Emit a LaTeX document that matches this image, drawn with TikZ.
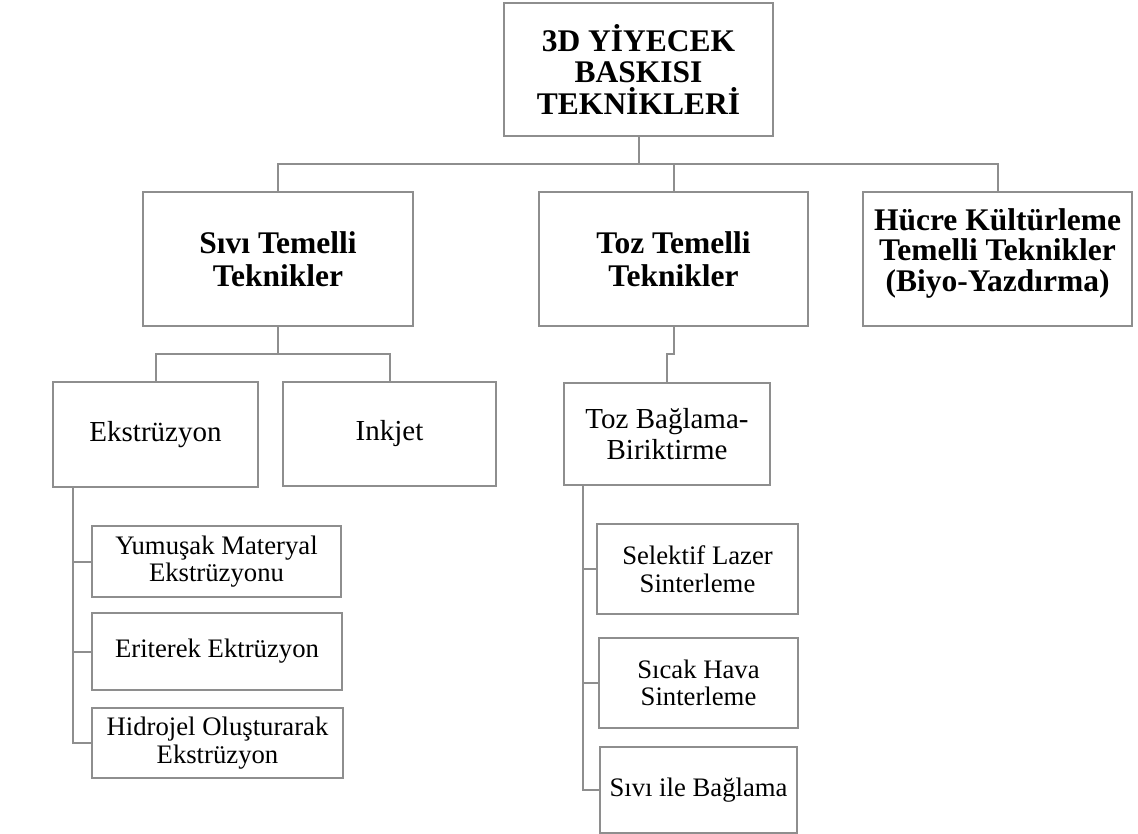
\documentclass[tikz,border=0pt]{standalone}
\usepackage{fontspec}
\setmainfont{Liberation Serif}
\usetikzlibrary{calc}
\definecolor{edge}{RGB}{142,142,142}
\begin{document}
\begin{tikzpicture}[x=1pt,y=-1pt,
  box/.style={draw=edge,line width=2pt,fill=white,rectangle,inner sep=0pt,align=center,text=black},
  lvl0/.style={box,font=\fontsize{31.5}{31.5}\selectfont\bfseries},
  lvl1/.style={box,font=\fontsize{31.5}{32.5}\selectfont\bfseries},
  lvl2/.style={box,font=\fontsize{29}{31.5}\selectfont},
  lvl3/.style={box,font=\fontsize{26.7}{27.5}\selectfont},
  conn/.style={draw=edge,line width=2pt}]
\fill[white] (0,0) rectangle (1138,834);
\useasboundingbox (0,0) rectangle (1138,834);

% root
\node[lvl0,minimum width=269,minimum height=133] (top) at (638.5,69.5) {3D YİYECEK\\BASKISI\\TEKNİKLERİ};

% first level
\node[lvl1,minimum width=270,minimum height=134] (sivi) at (278,259) {Sıvı Temelli\\Teknikler};
\node[lvl1,minimum width=269,minimum height=134] (toz) at (673.5,259) {Toz Temelli\\Teknikler};
\node[lvl1,minimum width=269,minimum height=134,font=\fontsize{31.5}{30.5}\selectfont\bfseries,text depth=18pt] (hucre) at (997.5,259) {Hücre Kültürleme\\Temelli Teknikler\\(Biyo-Yazdırma)};

% second level
\node[lvl2,minimum width=205,minimum height=105] (ekst) at (155.5,434.5) {Ekstrüzyon};
\node[lvl2,minimum width=213,minimum height=104] (inkjet) at (389.5,434) {Inkjet};
\node[lvl2,minimum width=206,minimum height=102] (tozbag) at (667,434) {Toz Bağlama-\\Biriktirme};

% third level
\node[lvl3,minimum width=249,minimum height=71] (yum) at (216.5,561.5) {Yumuşak Materyal\\Ekstrüzyonu};
\node[lvl3,minimum width=250,minimum height=77] (eri) at (217,651.5) {Eriterek Ektrüzyon};
\node[lvl3,minimum width=251,minimum height=70] (hid) at (217.5,743) {Hidrojel Oluşturarak\\Ekstrüzyon};
\node[lvl3,minimum width=201,minimum height=90] (sel) at (697.5,569) {Selektif Lazer\\Sinterleme};
\node[lvl3,minimum width=199,minimum height=90] (sic) at (698.5,683) {Sıcak Hava\\Sinterleme};
\node[lvl3,minimum width=197,minimum height=86] (siv) at (698.5,790) {Sıvı ile Bağlama};

% bus levels
\coordinate (b1) at (0,164);
\coordinate (b2) at (0,354);

% root to first level
\draw[conn] (top.south) -- (top.south |- b1);
\draw[conn] (sivi.north) -- (sivi.north |- b1) -- (hucre.north |- b1) -- (hucre.north);
\draw[conn] (toz.north) -- (toz.north |- b1);

% liquid based branch
\draw[conn] (sivi.south) -- (sivi.south |- b2);
\draw[conn] (ekst.north) -- (ekst.north |- b2) -- (inkjet.north |- b2) -- (inkjet.north);

% powder based branch
\draw[conn] (toz.south) -- (toz.south |- b2) -- (tozbag.north |- b2) -- (tozbag.north);

% extrusion sub-types
\coordinate (et) at ($(ekst.south west)+(21,0)$);
\draw[conn] (et) -- (et |- hid.west) -- (hid.west);
\draw[conn] (et |- yum.west) -- (yum.west);
\draw[conn] (et |- eri.west) -- (eri.west);

% powder binding sub-types
\coordinate (tt) at ($(tozbag.south west)+(20,0)$);
\draw[conn] (tt) -- (tt |- siv.west) -- (siv.west);
\draw[conn] (tt |- sel.west) -- (sel.west);
\draw[conn] (tt |- sic.west) -- (sic.west);
\end{tikzpicture}
\end{document}
